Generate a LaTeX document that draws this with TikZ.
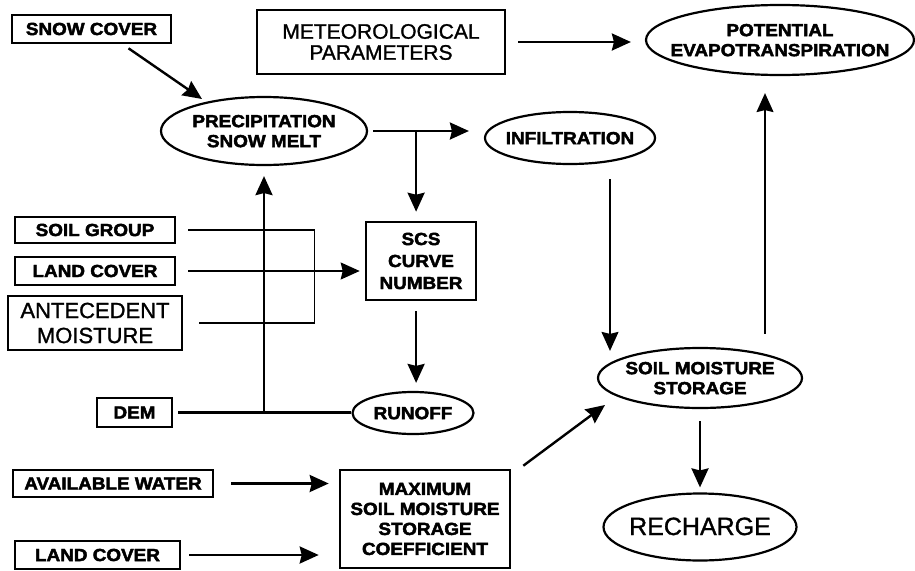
\documentclass[tikz,border=0pt]{standalone}
\usepackage{fontspec}
\usetikzlibrary{shapes.geometric,arrows.meta,calc}
\newfontfamily\hvb{Liberation Sans Bold}[FakeStretch=1.08,FakeBold=2.5]
\newfontfamily\hvr{Liberation Sans}[FakeBold=1.2]
\newcommand\ectext[1]{\makebox[0pt]{\raisebox{-0.37em}[0pt][0pt]{\begin{tabular}{@{}c@{}}#1\end{tabular}}}}
\begin{document}
\begin{tikzpicture}[x=1pt,y=-1pt,
  bfont/.style={font=\hvb\fontsize{17.5}{20}\selectfont},
  bx/.style={draw, line width=2.6pt, inner sep=0pt, align=center, bfont},
  bxr/.style={draw, line width=2pt, inner sep=0pt, align=center},
  el/.style={ellipse, draw, line width=2.2pt, inner sep=0pt, bfont},
  conn/.style={line width=2.4pt},
  thinconn/.style={line width=1.6pt},
  tip/.style={-{Stealth[length=19pt,width=17pt,inset=2pt]}},
  arr/.style={conn, tip},
  arrthin/.style={thinconn, tip}]
\useasboundingbox (0,0) rectangle (915,570);
% boxes
\node[bx, minimum width=159pt, minimum height=28pt] (snow) at (91.5,29) {SNOW COVER};
\node[bxr, minimum width=248pt, minimum height=64pt, font=\hvr\fontsize{21}{21}\selectfont] (met) at (381,42) {METEOROLOGICAL\\PARAMETERS};
\node[bx, minimum width=160pt, minimum height=26pt] (soilg) at (95,230) {SOIL GROUP};
\node[bx, minimum width=160pt, minimum height=28pt] (landc) at (95,271) {LAND COVER};
\node[bx, minimum width=174pt, minimum height=54pt, font=\hvr\fontsize{22}{25}\selectfont] (ante) at (95,323) {ANTECEDENT\\MOISTURE};
\node[bx, minimum width=75pt, minimum height=29pt] (dem) at (134.5,412.5) {DEM};
\node[bx, minimum width=200pt, minimum height=27pt] (avail) at (113,483.5) {AVAILABLE WATER};
\node[bx, minimum width=165pt, minimum height=28pt] (landc2) at (97.5,555) {LAND COVER};
\node[bx, minimum width=110pt, minimum height=78pt, font=\hvb\fontsize{17.5}{22}\selectfont] (scs) at (421,261) {SCS\\CURVE\\NUMBER};
\node[bx, minimum width=170pt, minimum height=98pt] (maxs) at (425,519) {MAXIMUM\\SOIL MOISTURE\\STORAGE\\COEFFICIENT};
% ellipses
\node[el, minimum width=268pt, minimum height=70pt] (pet) at (780,40) {\ectext{POTENTIAL\\EVAPOTRANSPIRATION}};
\node[el, minimum width=206pt, minimum height=68pt] (precip) at (264,131) {\ectext{PRECIPITATION\\SNOW MELT}};
\node[el, minimum width=170pt, minimum height=52pt] (infil) at (570,138) {\ectext{INFILTRATION}};
\node[el, minimum width=121pt, minimum height=42pt] (runoff) at (413,413) {\ectext{RUNOFF}};
\node[el, minimum width=204pt, minimum height=60pt] (soilm) at (700,378) {\ectext{SOIL MOISTURE\\STORAGE}};
\node[el, minimum width=193pt, minimum height=67pt, font=\hvr\fontsize{25}{25}\selectfont] (rech) at (700,527) {\ectext{RECHARGE}};
% connectors
\draw[arr] ($(snow.south)+(37,4)$) -- ($(precip.center)+(-62,-32)$);
\draw[arr, shorten <=12pt, shorten >=14pt] (met.east) -- (met.east -| pet.west);
\draw[arr, shorten <=5pt, shorten >=15pt] (precip.east) -- (precip.east -| infil.west);
\coordinate (j1) at ($(precip.east)+(48,0)$);
\draw[arr, shorten >=9pt] (j1) -- (j1 |- scs.north);
\draw[thinconn, shorten <=12pt, shorten >=16pt] (soilg.east) -| ($(ante.east)+(131,0)$) -- (ante.east);
\draw[arrthin, shorten <=12pt, shorten >=5pt] (landc.east) -- (landc.east -| scs.west);
\coordinate (j2) at (dem.east -| precip.south);
\draw[conn, shorten <=5pt] (dem.east) -- (dem.east -| runoff.west);
\draw[arr, shorten >=10pt] (j2) -- (precip.south);
\draw[arr, shorten <=10pt, shorten >=8pt] (scs.south -| j1) -- (runoff.north -| j1);
\draw[arrthin] ($(infil.south)+(40,14)$) -- ($(soilm.north)+(-90,4)$);
\draw[arrthin] ($(soilm.north)+(65,-13)$) -- ($(pet.south)+(-15,17)$);
\draw[arr] ($(maxs.north east)+(12,-3)$) -- ($(soilm.center)+(-95,27)$);
\draw[arr, shorten <=12pt, shorten >=5pt] (soilm.south) -- (rech.north);
\draw[arr, shorten <=17pt, shorten >=10pt] (avail.east) -- (avail.east -| maxs.west);
\draw[arr, shorten <=8pt, shorten >=20pt] (landc2.east) -- (landc2.east -| maxs.west);
\end{tikzpicture}
\end{document}
